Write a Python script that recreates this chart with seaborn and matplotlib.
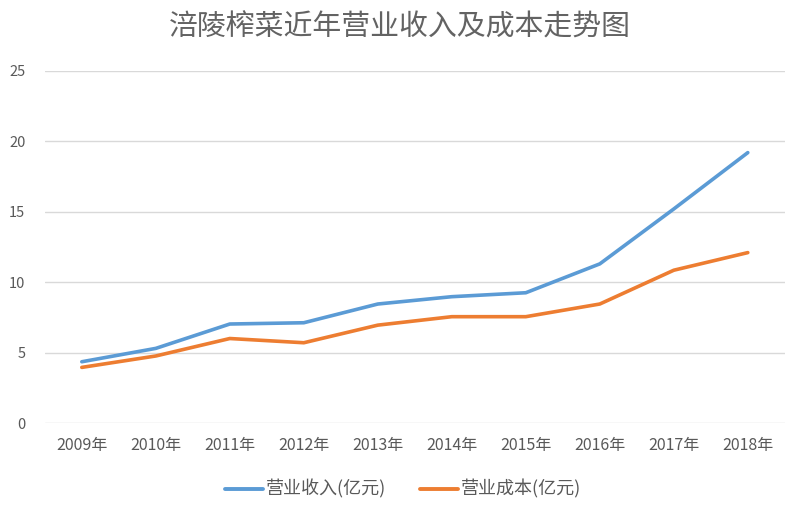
import matplotlib
matplotlib.use("Agg")
import matplotlib.pyplot as plt
import seaborn as sns
import pandas as pd
from matplotlib.lines import Line2D

years = ["2009年", "2010年", "2011年", "2012年", "2013年", "2014年", "2015年", "2016年", "2017年", "2018年"]
revenue = [4.35, 5.3, 7.03, 7.12, 8.45, 8.97, 9.25, 11.3, 15.2, 19.2]
cost = [3.95, 4.76, 6.0, 5.7, 6.95, 7.55, 7.55, 8.45, 10.85, 12.1]
series_names = ["营业收入(亿元)", "营业成本(亿元)"]
colors = ["#5b9bd5", "#ed7d31"]
title = "涪陵榨菜近年营业收入及成本走势图"
yticks = [0, 5, 10, 15, 20, 25]

sns.set_theme(style="white")
plt.rcParams['font.family'] = ['Noto Sans CJK SC', 'DejaVu Sans']

df = pd.DataFrame({
    "year": years * 2,
    "value": revenue + cost,
    "series": [series_names[0]] * len(years) + [series_names[1]] * len(years),
})

fig = plt.figure(figsize=(8.0, 5.14), dpi=100)
ax = fig.add_axes([0.056, 0.177, 0.925, 0.685])

sns.lineplot(data=df, x="year", y="value", hue="series", palette=colors,
             linewidth=2.6, sort=False, ax=ax, legend=False)

ax.set_ylim(0, 25)
ax.set_xlim(-0.5, len(years) - 0.5)
ax.set_yticks(yticks)
ax.set_yticklabels([str(t) for t in yticks])
ax.yaxis.grid(True, color="#d9d9d9", linewidth=1.0)
ax.set_axisbelow(True)
for s in ax.spines.values():
    s.set_visible(False)
ax.set_xlabel("")
ax.set_ylabel("")
ax.tick_params(axis="both", length=0, colors="#595959")
ax.tick_params(axis="y", pad=14, labelsize=10.5)
ax.tick_params(axis="x", pad=10, labelsize=11.5)

handles = [Line2D([0], [0], color=c, linewidth=2.8) for c in colors]
fig.legend(handles, series_names, loc="center", bbox_to_anchor=(0.504, 0.048),
           ncol=2, frameon=False, fontsize=13, labelcolor="#595959",
           handlelength=2.1, handletextpad=0.15, columnspacing=1.9)

fig.text(0.5, 0.947, title, ha="center", va="center", fontsize=20.8, color="#636363")

fig.savefig("out.png", dpi=100, facecolor="white")
